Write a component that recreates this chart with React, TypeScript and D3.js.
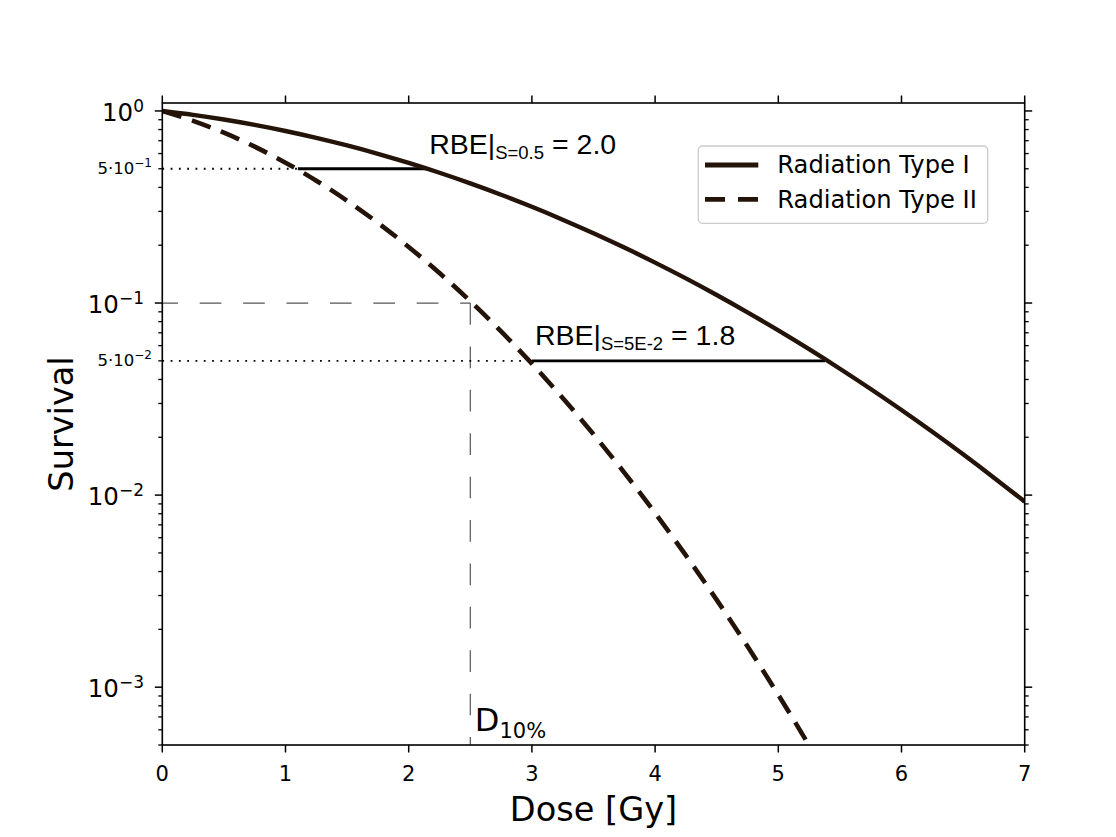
import React from "react";
import * as d3 from "d3";

// ---- Data ----
const doses = [0, 0.25, 0.5, 0.75, 1, 1.25, 1.5, 1.75, 2, 2.25, 2.5, 2.75, 3, 3.25, 3.5, 3.75, 4, 4.25, 4.5, 4.75, 5, 5.25, 5.5, 5.75, 6, 6.25, 6.5, 6.75, 7];
const survivalTypeI = [1, 0.9545, 0.9029, 0.8465, 0.7866, 0.7243, 0.6611, 0.5981, 0.5362, 0.4765, 0.4196, 0.3663, 0.3169, 0.2717, 0.2308, 0.1944, 0.1623, 0.1343, 0.1101, 0.08945, 0.07204, 0.05751, 0.04549, 0.03567, 0.02772, 0.02135, 0.0163, 0.01233, 0.009245];
const survivalTypeII = [1, 0.8883, 0.7701, 0.6515, 0.5379, 0.4335, 0.3409, 0.2616, 0.1959, 0.1432, 0.1022, 0.07111, 0.04832, 0.03203, 0.02073, 0.01309, 0.008067, 0.004852, 0.002848, 0.001631, 0.000912, 0.0004975, 0.0002649];

const seriesNames = ["Radiation Type I", "Radiation Type II"];
const xTicks = [0, 1, 2, 3, 4, 5, 6, 7];
const yMajorTicks = [1, 0.1, 0.01, 0.001];
const yMajorExp = ["0", "\u22121", "\u22122", "\u22123"];
const yLabeledMinor = [0.5, 0.05];
const yLabeledMinorExp = ["\u22121", "\u22122"];
const yMinorMultipliers = [2, 3, 4, 5, 6, 7, 8, 9];
const yDecades = [1e-4, 1e-3, 1e-2, 1e-1];

// RBE annotations
const rbeLevels = [0.5, 0.05];
const rbeDoseII = [1.1, 3.0];
const rbeDoseI = [2.15, 5.38];
const rbeSub = ["S=0.5", "S=5E-2"];
const rbeValue = ["2.0", "1.8"];
const rbeTextDose = [2.15, 3.0];
const d10 = 2.5;
const d10Level = 0.1;

const xDomain = [0, 7];
const yDomain = [5e-4, 1.1];

const W = 1116;
const H = 837;
const L = 162.3, R = 1024.7, T = 103, B = 745;

const curveColor = "#231308";
const DV = "DejaVu Sans, Verdana, sans-serif";
const ARIAL = "Liberation Sans, Arial, sans-serif";

export default function App() {
  const x = d3.scaleLinear().domain(xDomain).range([L, R]);
  const y = d3.scaleLog().domain(yDomain).range([B, T]);

  const line = d3
    .line<[number, number]>()
    .x((d) => x(d[0]))
    .y((d) => y(d[1]))
    .curve(d3.curveCatmullRom);

  const dataI: [number, number][] = survivalTypeI.map((s, i) => [doses[i], s]);
  const dataII: [number, number][] = survivalTypeII.map((s, i) => [doses[i], s]);

  const minorTicks: number[] = [];
  yDecades.forEach((dec) =>
    yMinorMultipliers.forEach((m) => {
      const v = dec * m;
      if (v >= yDomain[0] && v <= yDomain[1]) minorTicks.push(v);
    })
  );

  const majLen = 7.5;
  const minLen = 4;

  return (
    <svg
      width={W}
      height={H}
      style={{ position: "absolute", left: 0, top: 0, background: "#fff" }}
      xmlns="http://www.w3.org/2000/svg"
    >
      <rect x={0} y={0} width={W} height={H} fill="#fff" />
      <defs>
        <clipPath id="plotclip">
          <rect x={L} y={T} width={R - L} height={B - T} />
        </clipPath>
      </defs>

      {/* D10% guides */}
      <line
        x1={x(0)}
        x2={x(d10)}
        y1={y(d10Level)}
        y2={y(d10Level)}
        stroke="#555"
        strokeWidth={1.2}
        strokeDasharray="21.7 21.7"
        strokeDashoffset={6}
      />
      <line
        x1={x(d10)}
        x2={x(d10)}
        y1={y(d10Level)}
        y2={B}
        stroke="#555"
        strokeWidth={1.2}
        strokeDasharray="21.7 21.7"
      />

      {/* RBE dotted + solid segments */}
      {rbeLevels.map((lv, i) => (
        <g key={"rbe" + i}>
          <line
            x1={x(0)}
            x2={x(rbeDoseII[i])}
            y1={y(lv)}
            y2={y(lv)}
            stroke="#000"
            strokeWidth={1.8}
            strokeDasharray="1.8 6.5"
          />
          <line
            x1={x(rbeDoseII[i])}
            x2={x(rbeDoseI[i])}
            y1={y(lv)}
            y2={y(lv)}
            stroke="#000"
            strokeWidth={2.8}
          />
        </g>
      ))}

      {/* Curves */}
      <g clipPath="url(#plotclip)">
        <path d={line(dataI) || ""} fill="none" stroke={curveColor} strokeWidth={4.4} />
        <path
          d={line(dataII) || ""}
          fill="none"
          stroke={curveColor}
          strokeWidth={4.6}
          strokeDasharray="20 11"
        />
      </g>

      {/* RBE texts */}
      {rbeLevels.map((lv, i) => (
        <text
          key={"rbet" + i}
          x={x(rbeTextDose[i]) + (i === 0 ? 2 : 3)}
          y={y(lv) - (i === 0 ? 14.5 : 15.8)}
          fontFamily={ARIAL}
          fontSize={28.5}
          fill="#000"
        >
          RBE|
          <tspan fontSize={18.5} dy={5}>
            {rbeSub[i]}
          </tspan>
          <tspan dy={-5}>{" = " + rbeValue[i]}</tspan>
        </text>
      ))}

      {/* D10% label */}
      <text x={x(d10) + 4.5} y={B - 14.3} fontFamily={DV} fontSize={32} fill="#000">
        D
        <tspan fontSize={21} dy={7.5}>
          10%
        </tspan>
      </text>

      {/* Spines */}
      <rect x={L} y={T} width={R - L} height={B - T} fill="none" stroke="#000" strokeWidth={1.6} />

      {/* X ticks bottom/top */}
      {xTicks.map((t) => (
        <g key={"xt" + t}>
          <line x1={x(t)} x2={x(t)} y1={B} y2={B + majLen} stroke="#000" strokeWidth={1.5} />
          <line x1={x(t)} x2={x(t)} y1={T} y2={T - majLen} stroke="#000" strokeWidth={1.5} />
          <text
            x={x(t)}
            y={781}
            textAnchor="middle"
            fontFamily={DV}
            fontSize={21}
            fill="#000"
          >
            {t}
          </text>
        </g>
      ))}

      {/* Y major ticks */}
      {yMajorTicks.map((v, i) => (
        <g key={"ym" + i}>
          <line x1={L} x2={L - majLen} y1={y(v)} y2={y(v)} stroke="#000" strokeWidth={1.5} />
          <line x1={R} x2={R + majLen} y1={y(v)} y2={y(v)} stroke="#000" strokeWidth={1.5} />
          <text
            x={144}
            y={y(v) + 10}
            textAnchor="end"
            fontFamily={DV}
            fontSize={24.5}
            fill="#000"
          >
            10
            <tspan fontSize={17} dy={-9.3}>
              {yMajorExp[i]}
            </tspan>
          </text>
        </g>
      ))}

      {/* Y minor ticks */}
      {minorTicks.map((v, i) => (
        <g key={"yn" + i}>
          <line x1={L} x2={L - minLen} y1={y(v)} y2={y(v)} stroke="#000" strokeWidth={1.3} />
          <line x1={R} x2={R + minLen} y1={y(v)} y2={y(v)} stroke="#000" strokeWidth={1.3} />
        </g>
      ))}

      {/* Labeled minor ticks */}
      {yLabeledMinor.map((v, i) => (
        <text
          key={"yl" + i}
          x={152}
          y={y(v) + 5}
          textAnchor="end"
          fontFamily={DV}
          fontSize={16.5}
          fill="#000"
        >
          5·10
          <tspan fontSize={12} dy={-6.5}>
            {yLabeledMinorExp[i]}
          </tspan>
        </text>
      ))}

      {/* Axis labels */}
      <text
        x={(L + R) / 2}
        y={821}
        textAnchor="middle"
        fontFamily={DV}
        fontSize={33.6}
        fill="#000"
      >
        Dose [Gy]
      </text>
      <text
        transform={`translate(73, ${(T + B) / 2}) rotate(-90)`}
        textAnchor="middle"
        fontFamily={DV}
        fontSize={33.6}
        fill="#000"
      >
        Survival
      </text>

      {/* Legend */}
      <g>
        <rect
          x={698.3}
          y={146}
          width={289.4}
          height={77.3}
          rx={4}
          ry={4}
          fill="#fff"
          fillOpacity={0.8}
          stroke="#cccccc"
          strokeWidth={1.3}
        />
        {seriesNames.map((name, i) => (
          <g key={"lg" + i}>
            <line
              x1={705}
              x2={758.3}
              y1={165 + i * 34.3}
              y2={165 + i * 34.3}
              stroke={curveColor}
              strokeWidth={4.8}
              strokeDasharray={i === 0 ? undefined : "20 13"}
            />
            <text
              x={777.3}
              y={173.3 + i * 35}
              fontFamily={DV}
              fontSize={24.2}
              fill="#000"
            >
              {name}
            </text>
          </g>
        ))}
      </g>
    </svg>
  );
}
